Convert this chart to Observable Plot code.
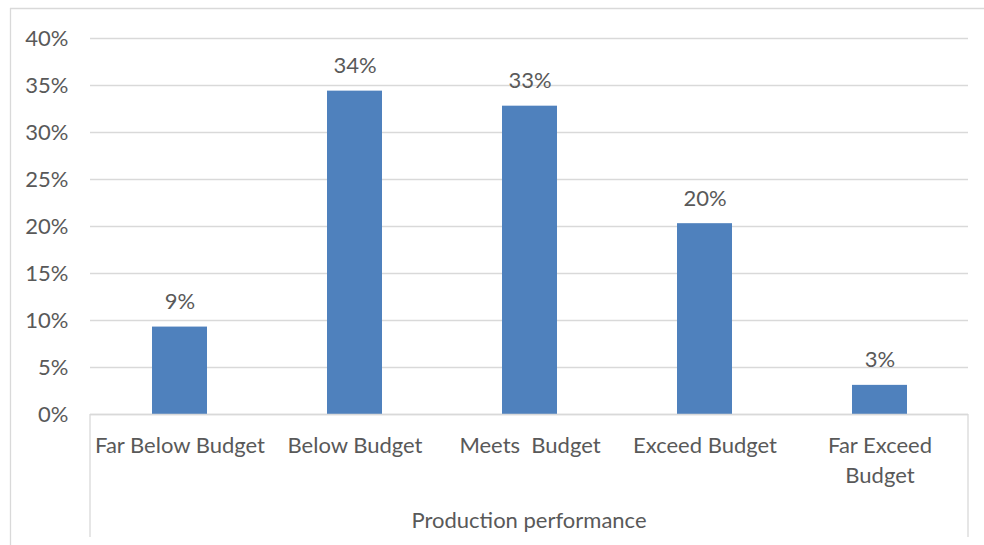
<!DOCTYPE html>
<html><head><meta charset="utf-8">
<script src="https://cdn.jsdelivr.net/npm/d3@7"></script>
<script src="https://cdn.jsdelivr.net/npm/@observablehq/plot@0.6"></script>
<style>
body{margin:0;background:#fff;}
#chart{width:984px;height:545px;overflow:hidden;}
#chart svg text{white-space:pre;}
</style></head><body><div id="chart"></div>
<script>
const categories = ["Far Below Budget", "Below Budget", "Meets  Budget", "Exceed Budget", "Far Exceed\nBudget"];
const shares = [9.3, 34.4, 32.8, 20.3, 3.1];
const valueLabels = ["9%", "34%", "33%", "20%", "3%"];
const yTicks = [0, 5, 10, 15, 20, 25, 30, 35, 40];
const yTickLabels = ["0%", "5%", "10%", "15%", "20%", "25%", "30%", "35%", "40%"];
const axisTitle = "Production performance";

const data = categories.map((c, i) => ({cat: c, v: shares[i], label: valueLabels[i]}));
const W = 984, H = 545, mL = 90, mR = 16, mT = 38, mB = 131;
const font = "Lato, sans-serif";
const fs = 22;
const textColor = "#595959";

const plot = Plot.plot({
  width: W, height: H,
  marginLeft: mL, marginRight: mR, marginTop: mT, marginBottom: mB,
  style: {fontFamily: font, fontSize: fs + "px", color: textColor, background: "white", overflow: "visible"},
  x: {domain: categories, paddingInner: 0.687, paddingOuter: 0.3435, label: null},
  y: {domain: [0, 40], label: null},
  marks: [
    Plot.gridY(yTicks, {stroke: "#d9d9d9", strokeOpacity: 1, strokeWidth: 1.3}),
    Plot.barY(data, {x: "cat", y: "v", fill: "#4f81bd"}),
    Plot.ruleY([0], {stroke: "#d9d9d9", strokeWidth: 1.3}),
    Plot.text(data, {x: "cat", y: "v", text: "label", dy: -25, fill: textColor, fontSize: fs}),
    Plot.axisY(yTicks, {tickSize: 0, tickPadding: 22, tickFormat: (d) => yTickLabels[yTicks.indexOf(d)], fill: textColor, fontSize: fs, label: null}),
    Plot.axisX({tickSize: 0, tickPadding: 17, fill: textColor, fontSize: fs, lineHeight: 1.36, label: null, textAnchor: "middle"})
  ]
});

const svg = d3.select(plot);
const g = svg.append("g").attr("stroke", "#d9d9d9").attr("stroke-width", 1.3);
// chart outer border
g.append("line").attr("x1", 10.5).attr("x2", 10.5).attr("y1", 8).attr("y2", H);
g.append("line").attr("x1", 10).attr("x2", W).attr("y1", 8.5).attr("y2", 8.5);
// category axis side lines
const y0 = H - mB;
g.append("line").attr("x1", mL).attr("x2", mL).attr("y1", y0).attr("y2", 537);
g.append("line").attr("x1", W - mR).attr("x2", W - mR).attr("y1", y0).attr("y2", 537);
// axis title
svg.append("text").attr("x", (mL + W - mR) / 2).attr("y", 522).attr("text-anchor", "middle")
  .attr("dominant-baseline", "middle").attr("fill", textColor).attr("font-size", fs)
  .attr("font-family", font).text(axisTitle);

document.getElementById("chart").appendChild(plot);
</script>
</body></html>
